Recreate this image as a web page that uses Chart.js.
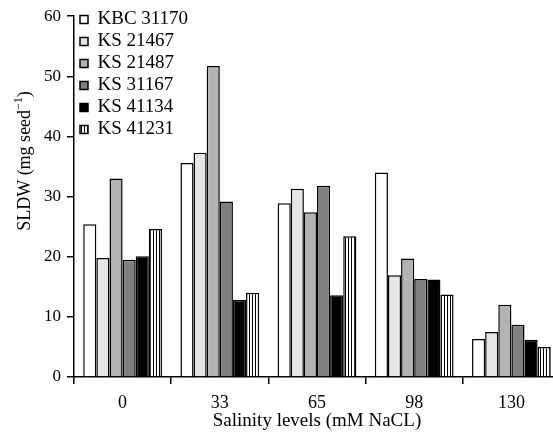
<!DOCTYPE html>
<html>
<head>
<meta charset="utf-8">
<script src="https://cdn.jsdelivr.net/npm/chart.js@4"></script>
<style>
  html, body { margin:0; padding:0; background:#fff; overflow:hidden; }
  #wrap { width:560px; height:439px; }
</style>
</head>
<body>
<div id="wrap"><canvas id="c" width="560" height="439"></canvas></div>
<script>
const levels = ['0', '33', '65', '98', '130'];
const cultivars = ['KBC 31170', 'KS 21467', 'KS 21487', 'KS 31167', 'KS 41134', 'KS 41231'];
const kbc31170 = [25.4, 35.6, 28.9, 34.0, 6.3];
const ks21467  = [19.8, 37.3, 31.3, 16.9, 7.5];
const ks21487  = [33.0, 51.7, 27.4, 19.7, 12.0];
const ks31167  = [19.5, 29.2, 31.8, 16.3, 8.7];
const ks41134  = [20.1, 12.8, 13.6, 16.2, 6.2];
const ks41231  = [24.6, 14.0, 23.4, 13.7, 5.0];
const yTicks = [0, 10, 20, 30, 40, 50, 60];

const FONT = "'Liberation Serif', 'Times New Roman', serif";

// vertical stripes for the last series
function stripes() {
  const p = document.createElement('canvas');
  p.width = 3; p.height = 4;
  const g = p.getContext('2d');
  g.fillStyle = '#fff'; g.fillRect(0, 0, 3, 4);
  g.fillStyle = '#000'; g.fillRect(0, 0, 1, 4);
  return g.createPattern(p, 'repeat');
}

const fills = ['#ffffff', '#e6e6e6', '#b3b3b3', '#808080', '#000000', stripes()];
const series = [kbc31170, ks21467, ks21487, ks31167, ks41134, ks41231];

// y title with a real superscript, drawn by hand
const yTitle = {
  id: 'yTitle',
  afterDraw(chart) {
    const ctx = chart.ctx;
    ctx.save();
    ctx.translate(25, 161);
    ctx.rotate(-Math.PI / 2);
    ctx.fillStyle = '#000';
    ctx.textBaseline = 'middle';
    const big = '18px ' + FONT, small = '12px ' + FONT;
    const a = 'SLDW (mg seed', sup = '\u22121', b = ')';
    ctx.font = big; const wa = ctx.measureText(a).width, wb = ctx.measureText(b).width;
    ctx.font = small; const ws = ctx.measureText(sup).width;
    let x = -(wa + ws + wb) / 2;
    ctx.font = big; ctx.fillText(a, x, 0); x += wa;
    ctx.font = small; ctx.fillText(sup, x, -6); x += ws;
    ctx.font = big; ctx.fillText(b, x, 0);
    ctx.restore();
  }
};

// legend sits a little right of and below the chart area corner
const nudgeLegend = {
  id: 'nudgeLegend',
  afterLayout(chart) {
    chart.legend.left += 3;
    chart.legend.top += 7;
  }
};

new Chart(document.getElementById('c'), {
  type: 'bar',
  data: {
    labels: levels,
    datasets: cultivars.map((name, i) => ({
      label: name,
      data: series[i],
      backgroundColor: fills[i],
      borderColor: '#000',
      borderWidth: 1.5,
      categoryPercentage: 0.81,
      barPercentage: 1.0
    }))
  },
  options: {
    responsive: false,
    animation: false,
    layout: { padding: { left: 38, right: 0, top: 15, bottom: 8 } },
    plugins: {
      tooltip: { enabled: false },
      legend: {
        position: 'chartArea',
        align: 'start',
        labels: {
          boxWidth: 8, boxHeight: 8, padding: 3, color: '#000',
          font: { family: FONT, size: 19 }
        }
      }
    },
    scales: {
      x: {
        border: { color: '#000', width: 1.5 },
        grid: { drawOnChartArea: false, color: '#000', lineWidth: 1.5, tickLength: 7 },
        ticks: { color: '#000', padding: 10, font: { family: FONT, size: 18, lineHeight: 1 } },
        title: { display: true, text: 'Salinity levels (mM NaCL)', color: '#000',
                 padding: { top: -10, bottom: 0 }, font: { family: FONT, size: 19, lineHeight: 1 } }
      },
      y: {
        min: 0, max: 60,
        border: { color: '#000', width: 1.5 },
        grid: { drawOnChartArea: false, color: '#000', lineWidth: 1.5, tickLength: 7 },
        afterBuildTicks: (s) => { s.ticks = yTicks.map(v => ({ value: v })); },
        ticks: { color: '#000', padding: 6, font: { family: FONT, size: 17 } }
      }
    }
  },
  plugins: [yTitle, nudgeLegend]
});
</script>
</body>
</html>
